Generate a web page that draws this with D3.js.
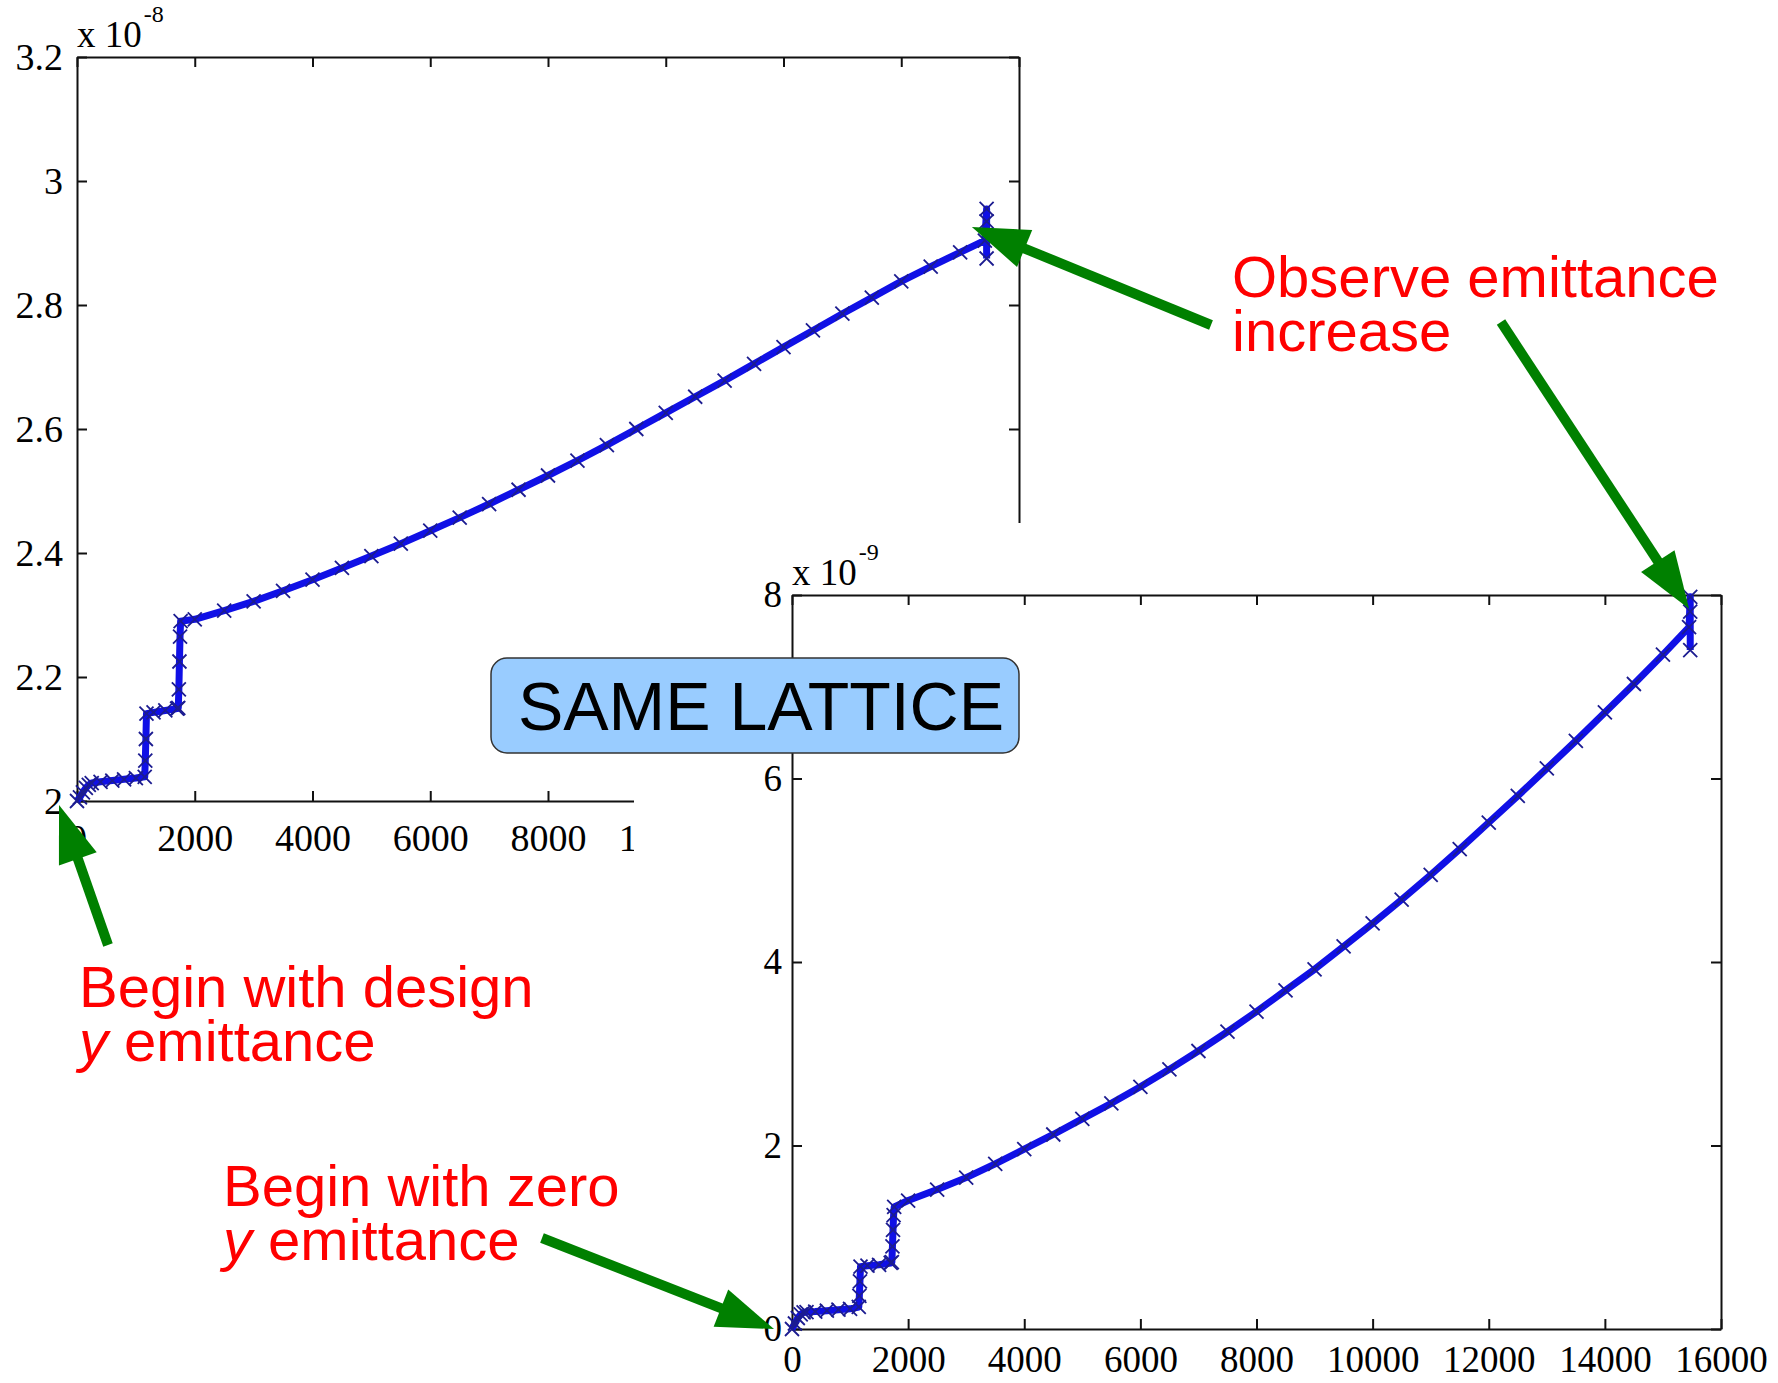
<!DOCTYPE html>
<html>
<head>
<meta charset="utf-8">
<script src="https://d3js.org/d3.v7.min.js"></script>
<style>
body { margin: 0; background: #fff; }
.tick text, .mult { font-family: "Liberation Serif", "Times New Roman", serif; fill: #000; }
.note { font-family: "Liberation Sans", Arial, sans-serif; fill: #ff0000; font-size: 58px; }
</style>
</head>
<body>
<div id="chart"></div>
<script>
var width = 1778;
var height = 1383;

// turns (x axis), shared by both panels
var xTicks = [0, 2000, 4000, 6000, 8000, 10000, 12000, 14000, 16000];
var xTickLabels = ["0", "2000", "4000", "6000", "8000", "10000", "12000", "14000", "16000"];

// top panel: start with design y emittance (x 1e-8)
var designTicks = [2, 2.2, 2.4, 2.6, 2.8, 3, 3.2];
var designTickLabels = ["2", "2.2", "2.4", "2.6", "2.8", "3", "3.2"];
var designTurns = [0, 50, 100, 150, 200, 250, 400, 600, 800, 1000, 1150, 1160, 1170, 1180, 1300, 1500, 1700,
	1720, 1730, 1740, 1750, 1760, 2000, 2500, 3000, 3500, 4000, 4500, 5000, 5500, 6000, 6500, 7000, 7500,
	8000, 8500, 9000, 9500, 10000, 10500, 11000, 11500, 12000, 12500, 13000, 13500, 14000, 14500, 15000,
	15420, 15450, 15450, 15450];
var designEmit = [2.000, 2.006, 2.014, 2.021, 2.026, 2.029, 2.031, 2.033, 2.035, 2.037, 2.039, 2.065, 2.100,
	2.141, 2.143, 2.146, 2.149, 2.150, 2.180, 2.225, 2.265, 2.290, 2.293, 2.307, 2.322, 2.339, 2.357, 2.376,
	2.395, 2.415, 2.436, 2.457, 2.479, 2.502, 2.525, 2.549, 2.574, 2.600, 2.626, 2.652, 2.678, 2.705, 2.732,
	2.759, 2.786, 2.812, 2.838, 2.862, 2.885, 2.904, 2.955, 2.935, 2.875];

// bottom panel: start with zero y emittance (x 1e-9)
var zeroTicks = [0, 2, 4, 6, 8];
var zeroTickLabels = ["0", "2", "4", "6", "8"];
var zeroTurns = [0, 50, 100, 150, 200, 250, 400, 600, 800, 1000, 1150, 1160, 1170, 1180, 1300, 1500, 1700,
	1720, 1730, 1740, 1750, 1760, 2000, 2500, 3000, 3500, 4000, 4500, 5000, 5500, 6000, 6500, 7000, 7500,
	8000, 8500, 9000, 9500, 10000, 10500, 11000, 11500, 12000, 12500, 13000, 13500, 14000, 14500, 15000,
	15450, 15470, 15470, 15470];
var zeroEmit = [0.00, 0.06, 0.12, 0.16, 0.18, 0.185, 0.19, 0.20, 0.21, 0.22, 0.24, 0.36, 0.52, 0.68, 0.69,
	0.70, 0.72, 0.73, 0.90, 1.08, 1.24, 1.33, 1.40, 1.52, 1.65, 1.80, 1.96, 2.12, 2.29, 2.46, 2.64, 2.83,
	3.03, 3.24, 3.46, 3.69, 3.92, 4.17, 4.42, 4.68, 4.95, 5.23, 5.52, 5.81, 6.11, 6.41, 6.72, 7.03, 7.35,
	7.65, 7.98, 7.82, 7.40];

var svg = d3.select("#chart")
	.append("svg")
	.attr("width", width)
	.attr("height", height);

svg.append("rect")
	.attr("width", width)
	.attr("height", height)
	.attr("fill", "#ffffff");

function drawPanel(p) {
	var g = svg.append("g");
	var x = d3.scaleLinear().domain([0, 16000]).range([p.left, p.right]);
	var y = d3.scaleLinear().domain([p.yTicks[0], p.yTicks[p.yTicks.length - 1]]).range([p.bottom, p.top]);

	g.append("g")
		.attr("transform", "translate(0," + p.bottom + ")")
		.call(d3.axisBottom(x).tickValues(xTicks).tickFormat(function(d, i) { return xTickLabels[i]; })
			.tickSizeInner(-10).tickSizeOuter(0).tickPadding(p.xPad));
	g.append("g")
		.attr("transform", "translate(0," + p.top + ")")
		.call(d3.axisTop(x).tickValues(xTicks).tickFormat("").tickSizeInner(-10).tickSizeOuter(0));
	g.append("g")
		.attr("transform", "translate(" + p.left + ",0)")
		.call(d3.axisLeft(y).tickValues(p.yTicks).tickFormat(function(d, i) { return p.yLabels[i]; })
			.tickSizeInner(-10).tickSizeOuter(0).tickPadding(p.yPad));
	g.append("g")
		.attr("transform", "translate(" + p.right + ",0)")
		.call(d3.axisRight(y).tickValues(p.yTicks).tickFormat("").tickSizeInner(-10).tickSizeOuter(0));

	g.selectAll("path.domain, .tick line")
		.attr("stroke", "#111")
		.attr("stroke-width", 2);
	g.selectAll(".tick text")
		.attr("font-size", p.fontSize + "px")
		.attr("font-family", "Liberation Serif, Times New Roman, serif");

	// multiplier, x 10^exp
	var m = g.append("text").attr("class", "mult")
		.attr("x", p.left).attr("y", p.multY)
		.attr("font-size", "37px");
	m.append("tspan").text("x 10");
	m.append("tspan").attr("font-size", "24px").attr("dx", 2).attr("dy", -25).text(p.exp);

	var pts = p.xs.map(function(d, i) { return [d, p.ys[i]]; });
	var line = d3.line()
		.x(function(d) { return x(d[0]); })
		.y(function(d) { return y(d[1]); });

	g.append("path")
		.datum(pts)
		.attr("d", line)
		.attr("fill", "none")
		.attr("stroke", "#1010e6")
		.attr("stroke-width", 7)
		.attr("stroke-linejoin", "round");

	g.selectAll(".mk")
		.data(pts)
		.enter()
		.append("path")
		.attr("class", "mk")
		.attr("transform", function(d) { return "translate(" + x(d[0]) + "," + y(d[1]) + ")"; })
		.attr("d", "M-7,-7L7,7M-7,7L7,-7")
		.attr("stroke", "#1c1c90")
		.attr("stroke-width", 1.8);

	return { x: x, y: y };
}

var panelA = drawPanel({
	left: 77, right: 1019, top: 57, bottom: 801,
	yTicks: designTicks, yLabels: designTickLabels,
	xs: designTurns, ys: designEmit,
	xPad: 23, yPad: 14, fontSize: 38, multY: 47, exp: "-8"
});

// second figure pasted over the first one, with its white background
svg.append("rect")
	.attr("x", 634)
	.attr("y", 523)
	.attr("width", width - 634)
	.attr("height", height - 523)
	.attr("fill", "#ffffff");

var panelB = drawPanel({
	left: 792, right: 1721, top: 595, bottom: 1329,
	yTicks: zeroTicks, yLabels: zeroTickLabels,
	xs: zeroTurns, ys: zeroEmit,
	xPad: 17, yPad: 10, fontSize: 37, multY: 585, exp: "-9"
});

// label box
svg.append("rect")
	.attr("x", 491).attr("y", 658)
	.attr("width", 528).attr("height", 95)
	.attr("rx", 16).attr("ry", 16)
	.attr("fill", "#99ccff")
	.attr("stroke", "#333")
	.attr("stroke-width", 1.5);
svg.append("text")
	.attr("x", 761).attr("y", 730)
	.attr("text-anchor", "middle")
	.attr("font-family", "Liberation Sans, Arial, sans-serif")
	.attr("font-size", "68px")
	.attr("fill", "#000")
	.text("SAME LATTICE");

// green arrows
function arrow(x1, y1, x2, y2) {
	var dx = x2 - x1, dy = y2 - y1;
	var len = Math.sqrt(dx * dx + dy * dy);
	var ux = dx / len, uy = dy / len;
	var hl = 57, hw = 20;
	var bx = x2 - ux * hl, by = y2 - uy * hl;
	svg.append("line")
		.attr("x1", x1).attr("y1", y1)
		.attr("x2", bx + ux * 4).attr("y2", by + uy * 4)
		.attr("stroke", "#008000")
		.attr("stroke-width", 10);
	svg.append("polygon")
		.attr("points", [[x2, y2], [bx - uy * hw, by + ux * hw], [bx + uy * hw, by - ux * hw]].join(" "))
		.attr("fill", "#008000");
}

arrow(1211, 325, panelA.x(15200), panelA.y(2.926));
arrow(1501, 322, panelB.x(15450), panelB.y(7.85));
arrow(108, 945, panelA.x(0) - 18, panelA.y(2) + 4);
arrow(542, 1238, panelB.x(0) - 18, panelB.y(0));

// red notes, two lines in one text
function note(x, y, first, italicY, rest) {
	var t = svg.append("text").attr("class", "note").attr("x", x).attr("y", y);
	t.append("tspan").text(first);
	var l2 = t.append("tspan").attr("x", x).attr("dy", 54);
	if (italicY) {
		l2.attr("font-style", "italic").text("y");
		t.append("tspan").text(rest);
	} else {
		l2.text(rest);
	}
}

note(1232, 297, "Observe emittance", false, "increase");
note(79, 1007, "Begin with design", true, " emittance");
note(223, 1206, "Begin with zero", true, " emittance");
</script>
</body>
</html>
